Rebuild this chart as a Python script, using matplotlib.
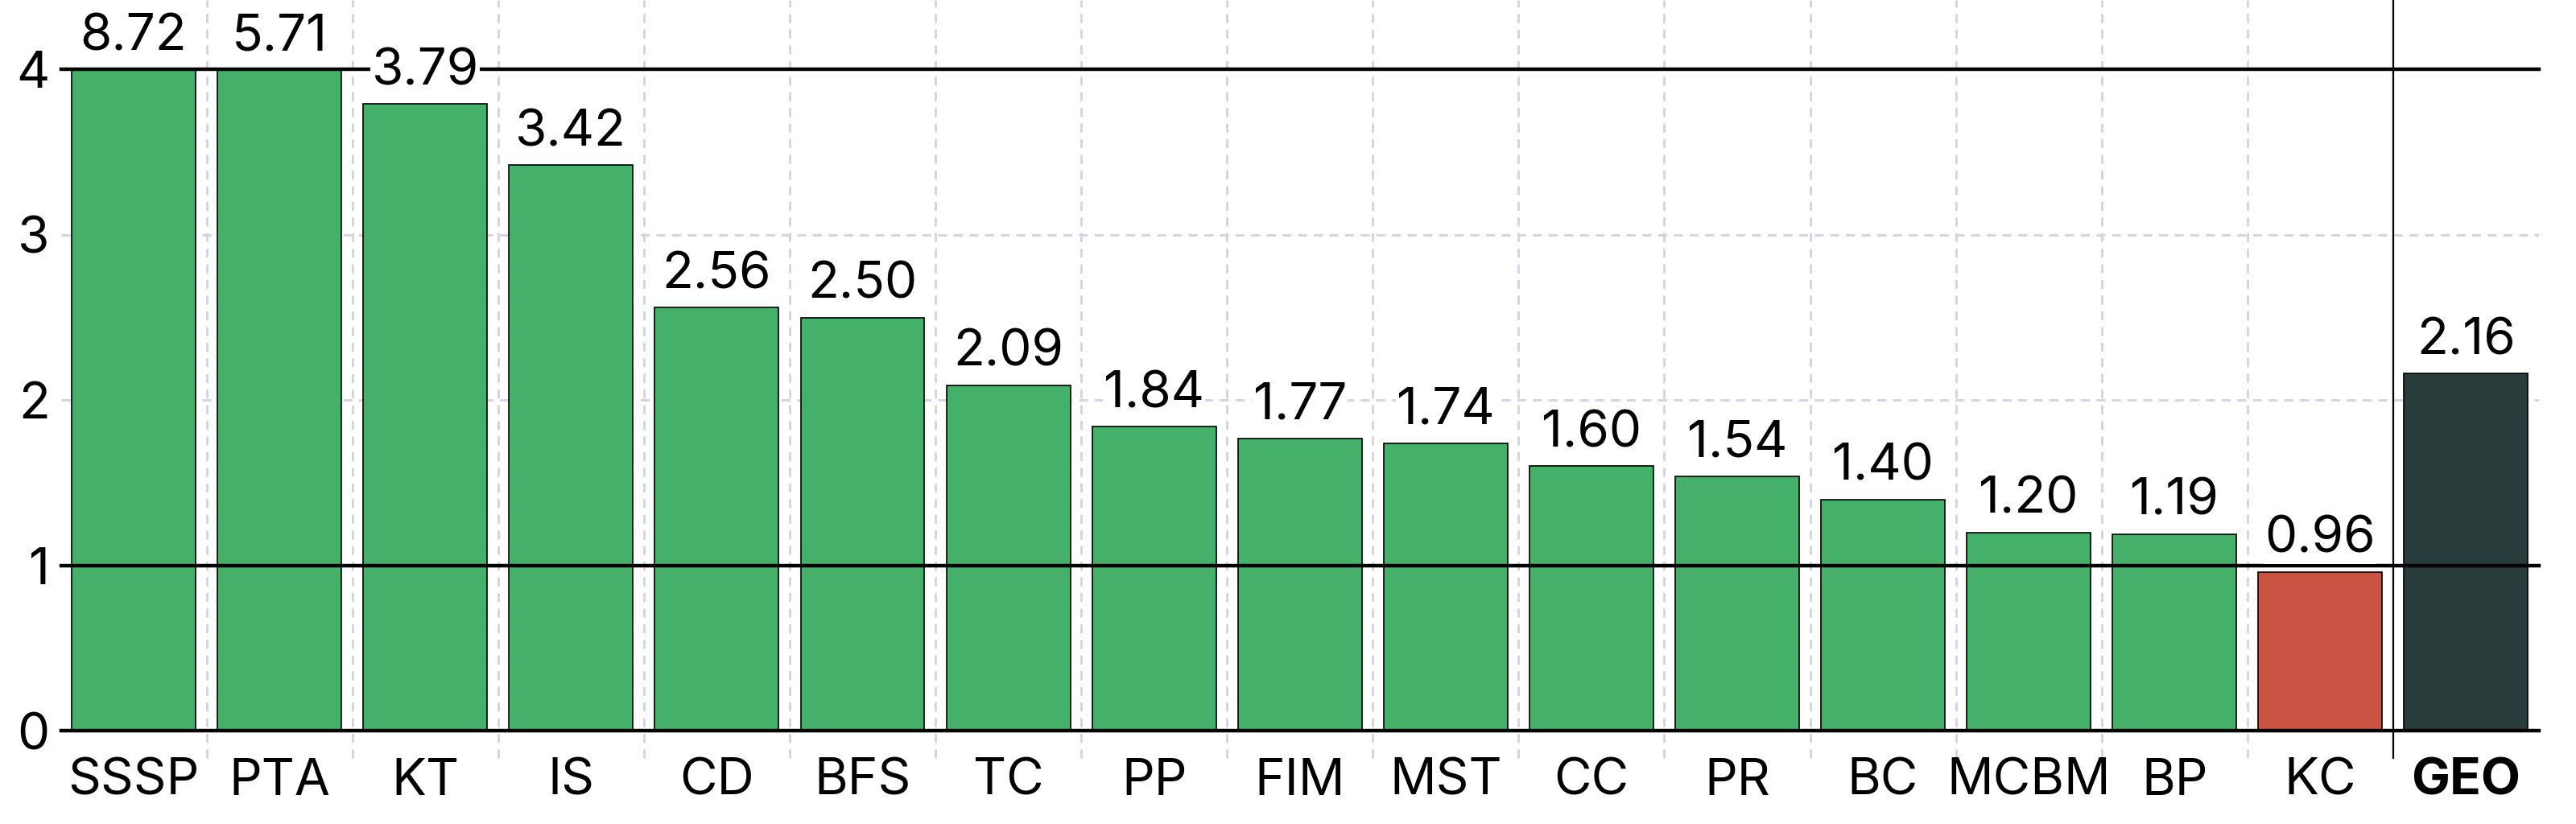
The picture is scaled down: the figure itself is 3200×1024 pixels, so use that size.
import matplotlib
matplotlib.use("Agg")
import matplotlib.pyplot as plt

plt.rcParams['font.family'] = ['Inter', 'DejaVu Sans']

categories = ['SSSP', 'PTA', 'KT', 'IS', 'CD', 'BFS', 'TC', 'PP', 'FIM', 'MST',
              'CC', 'PR', 'BC', 'MCBM', 'BP', 'KC', 'GEO']
values = [8.72, 5.71, 3.79, 3.42, 2.56, 2.50, 2.09, 1.84, 1.77, 1.74,
          1.60, 1.54, 1.40, 1.20, 1.19, 0.96, 2.16]

green = '#45b06a'
red = '#cb5343'
dark = '#293c3c'
grid_col = '#d3d2e4'
ymax = 4

fig = plt.figure(figsize=(32, 10.24), dpi=100)
ax = fig.add_axes([0.0236, 0.113, 0.962, 0.887])

x = list(range(len(categories)))
heights = [min(v, ymax) for v in values]
colors = []
for i, v in enumerate(values):
    if categories[i] == 'GEO':
        colors.append(dark)
    elif v < 1:
        colors.append(red)
    else:
        colors.append(green)

ax.bar(x, heights, width=0.85, color=colors, edgecolor='black', linewidth=1.2, zorder=2)

ax.set_xlim(-0.5, len(categories) - 0.5)
ax.set_ylim(0, 4.42)

# dashed grid
for y in [2, 3]:
    ax.axhline(y, color=grid_col, linestyle=(0, (4, 3)), linewidth=2, zorder=0)
trans = ax.get_xaxis_transform()
for i in range(len(categories) - 1):
    xp = i + 0.5
    if categories[i + 1] == 'GEO':
        ax.plot([xp, xp], [-0.037, 1.0], transform=trans, color='black',
                linewidth=1.6, clip_on=False, zorder=4)
    else:
        ax.plot([xp, xp], [-0.037, 1.0], transform=trans, color=grid_col,
                linestyle=(0, (4, 3)), linewidth=2, clip_on=False, zorder=0)

# reference lines
for y in [0, 1, 4]:
    ax.axhline(y, color='black', linewidth=3.2, zorder=3, clip_on=False)

for i, v in enumerate(values):
    ax.annotate(f'{v:.2f}', (i, min(v, ymax)), xytext=(0, 8),
                textcoords='offset points', ha='center', va='bottom',
                fontsize=46, zorder=5,
                bbox=dict(facecolor='white', edgecolor='none', pad=1))

for s in ax.spines.values():
    s.set_visible(False)

ax.set_xticks(x)
ax.set_xticklabels(categories, fontsize=46)
ax.get_xticklabels()[-1].set_fontweight('bold')
ax.set_yticks([0, 1, 2, 3, 4])
ax.set_yticklabels(['0', '1', '2', '3', '4'], fontsize=46)
ax.tick_params(axis='x', length=0, pad=24)
ax.tick_params(axis='y', length=0, pad=10)

fig.savefig('out.png', dpi=100)
